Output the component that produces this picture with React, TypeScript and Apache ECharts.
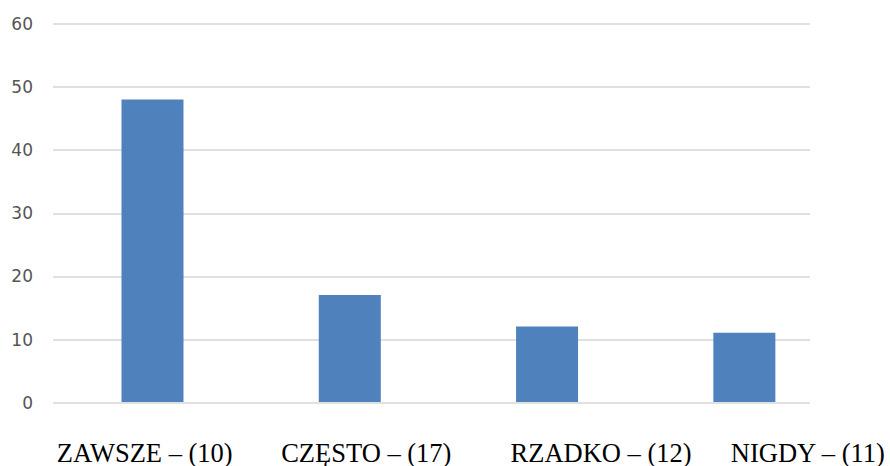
import React, { useEffect, useRef } from "react";
import * as echarts from "echarts";

const categories = ["ZAWSZE – (10)", "CZĘSTO – (17)", "RZADKO – (12)", "NIGDY – (11)"];
const values = [48, 17, 12, 11];
const yMin = 0;
const yMax = 60;
const yInterval = 10;

// label horizontal offsets (px) relative to bar centre, as in the reference layout
const labelShift = [-7.8, 16.5, 54, 63.5];

export default function App() {
  const ref = useRef<HTMLDivElement>(null);
  useEffect(() => {
    document.body.style.margin = "0";
    const chart = echarts.init(ref.current!, null, { renderer: "svg" });
    const rich: Record<string, any> = {};
    labelShift.forEach((s, i) => {
      rich["s" + i] = {
        fontFamily: "Liberation Serif",
        fontSize: 26.5,
        color: "#000000",
        padding: s >= 0 ? [0, 0, 0, 2 * s] : [0, -2 * s, 0, 0],
      };
    });
    chart.setOption({
      animation: false,
      backgroundColor: "#ffffff",
      grid: [
        { left: 53.85, right: 47, top: 24, bottom: 63.3 },
        { left: 53, right: 80, top: 24, bottom: 63.3 },
      ],
      xAxis: [
        {
          type: "category",
          gridIndex: 0,
          data: categories,
          axisLine: { show: false },
          axisTick: { show: false },
          axisLabel: {
            interval: 0,
            margin: 37,
            fontFamily: "Liberation Serif",
            fontSize: 26.5,
            color: "#000000",
            formatter: (v: string, i: number) => `{s${i}|${v}}`,
            rich,
          },
        },
        {
          type: "value",
          gridIndex: 1,
          show: false,
        },
      ],
      yAxis: [
        {
          type: "value",
          gridIndex: 0,
          min: yMin,
          max: yMax,
          interval: yInterval,
          show: false,
        },
        {
          type: "value",
          gridIndex: 1,
          min: yMin,
          max: yMax,
          interval: yInterval,
          axisLine: { show: false },
          axisTick: { show: false },
          splitLine: { lineStyle: { color: "#e0e0e0", width: 2 } },
          axisLabel: {
            margin: 20,
            fontFamily: "DejaVu Sans",
            fontSize: 17,
            color: "#555555",
          },
        },
      ],
      series: [
        {
          type: "bar",
          xAxisIndex: 0,
          yAxisIndex: 0,
          data: values,
          barWidth: 62,
          itemStyle: { color: "#4F81BD" },
        },
      ],
    });
    return () => chart.dispose();
  }, []);
  return <div ref={ref} style={{ width: 890, height: 466 }} />;
}
